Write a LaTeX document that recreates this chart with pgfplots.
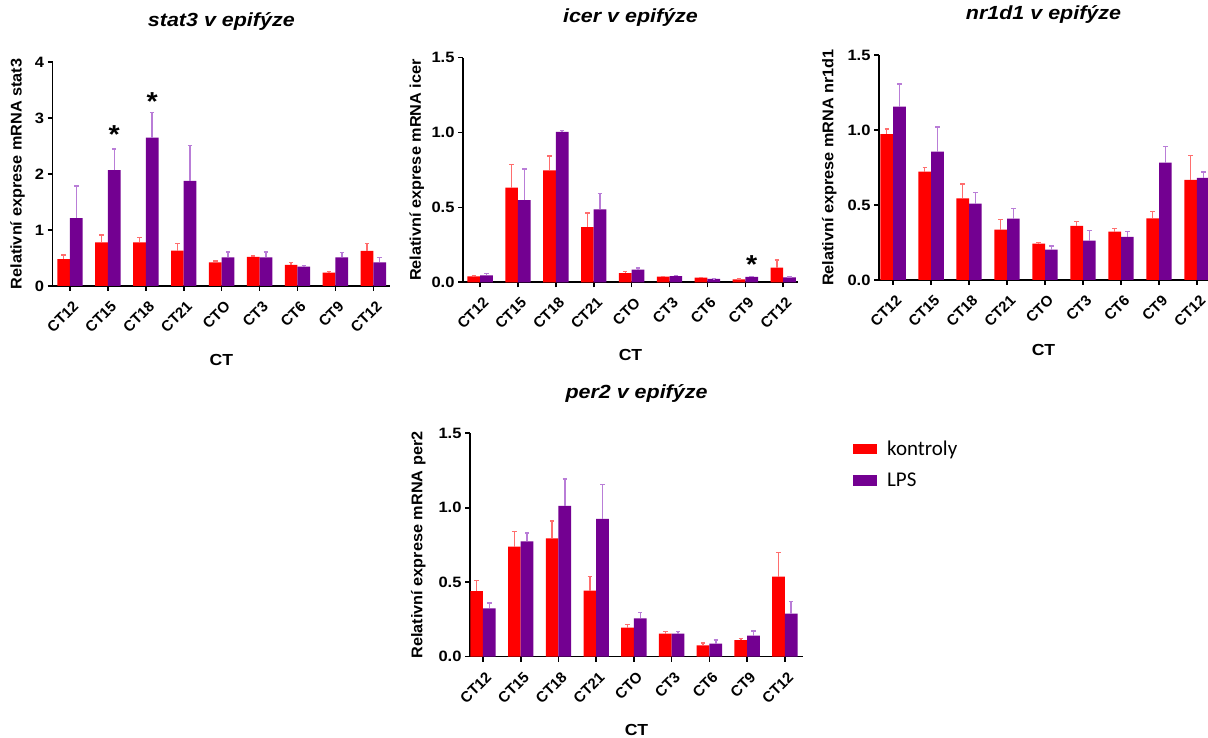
\documentclass[border=0pt]{standalone}
\usepackage{fontspec}
\setmainfont{Liberation Sans}
\newfontfamily\hfont[FakeStretch=1.1]{Liberation Sans}
\newfontfamily\tfont[FakeStretch=1.13]{Liberation Sans}
\newfontfamily\vfont[FakeStretch=1.05]{Liberation Sans}
\newfontfamily\legfont{Carlito}
\usepackage{pgfplots}
\usepackage{pgfplotstable}
\pgfplotsset{compat=1.18}

\definecolor{cred}{RGB}{255,0,0}
\definecolor{cpur}{RGB}{115,0,145}
\definecolor{ered}{RGB}{255,110,110}
\definecolor{epur}{RGB}{185,125,215}

\pgfplotstableread{
x r re p pe
0 0.48 0.07 1.21 0.58
1 0.78 0.13 2.07 0.38
2 0.78 0.09 2.65 0.45
3 0.63 0.13 1.875 0.635
4 0.42 0.03 0.51 0.10
5 0.52 0.02 0.51 0.10
6 0.375 0.045 0.345 0.025
7 0.24 0.02 0.51 0.09
8 0.625 0.135 0.42 0.09
}\stat

\pgfplotstableread{
x r re p pe
0 0.040 0.004 0.047 0.013
1 0.632 0.156 0.548 0.207
2 0.748 0.096 1.004 0.011
3 0.369 0.094 0.487 0.107
4 0.062 0.009 0.085 0.011
5 0.038 0.002 0.042 0.004
6 0.031 0.002 0.022 0.002
7 0.020 0.003 0.036 0.004
8 0.098 0.051 0.033 0.004
}\icer

\pgfplotstableread{
x r re p pe
0 0.973 0.034 1.156 0.151
1 0.722 0.029 0.856 0.164
2 0.544 0.096 0.509 0.073
3 0.336 0.066 0.409 0.067
4 0.242 0.009 0.202 0.025
5 0.360 0.031 0.262 0.067
6 0.322 0.020 0.287 0.035
7 0.411 0.047 0.782 0.107
8 0.667 0.162 0.680 0.040
}\nrd

\pgfplotstableread{
x r re p pe
0 0.441 0.069 0.325 0.035
1 0.739 0.103 0.775 0.055
2 0.795 0.116 1.013 0.180
3 0.443 0.094 0.925 0.232
4 0.195 0.022 0.257 0.041
5 0.155 0.013 0.155 0.013
6 0.076 0.016 0.087 0.025
7 0.112 0.011 0.141 0.031
8 0.537 0.163 0.289 0.081
}\pertwo

\tikzset{sigstar/.style={font=\hfont\bfseries\fontsize{26}{26}\selectfont, anchor=center, yshift=-5pt, inner sep=0pt}}

\pgfplotsset{
  panel/.style={
    scale only axis, anchor=south west,
    axis lines*=left,
    axis line style={line width=1.6pt, black},
    tick style={line width=1.6pt, black},
    tick align=outside, major tick length=5pt,
    ybar=0pt, bar width=12.7pt,
    ymin=0,
    xtick={0,...,8},
    xticklabels={CT12,CT15,CT18,CT21,CTO,CT3,CT6,CT9,CT12},
    xticklabel style={font=\bfseries\fontsize{15}{17}\selectfont, xshift=2pt, yshift=-9pt, rotate=45, anchor=north east, inner sep=0pt},
    yticklabel style={font=\hfont\bfseries\fontsize{15}{17}\selectfont},
    /pgf/number format/assume math mode=true,
    xlabel={CT},
    xlabel style={font=\hfont\bfseries\fontsize{16}{18}\selectfont, anchor=center},
    ylabel style={font=\vfont\bfseries\fontsize{15.5}{17}\selectfont, anchor=center},
    title style={font=\tfont\bfseries\itshape\fontsize{19}{22}\selectfont, at={(axis description cs:0.5,1)}, anchor=base, yshift=29pt},
  },
  dec/.style={yticklabel style={/pgf/number format/.cd, fixed, fixed zerofill, precision=1}, ymax=1.5, ytick={0,0.5,1,1.5}},
  rbar/.style={fill=cred, draw=none,
    error bars/.cd, y dir=plus, y explicit,
    error bar style={ered, line width=1.5pt},
    error mark options={ered, rotate=90, mark size=2.2pt, line width=1.5pt}},
  pbar/.style={fill=cpur, draw=none,
    error bars/.cd, y dir=plus, y explicit,
    error bar style={epur, line width=1.5pt},
    error mark options={epur, rotate=90, mark size=2.2pt, line width=1.5pt}},
}

\begin{document}
\begin{tikzpicture}
\path[use as bounding box] (0,0) rectangle (1208pt,738pt);

% stat3
\begin{axis}[panel, at={(52.7pt,452pt)}, width=337.3pt, height=224pt,
  xmin=-0.456, xmax=8.44, ymax=4, ytick={0,1,2,3,4},
  title={stat3 v epifýze},
  ylabel={Relativní exprese mRNA stat3},
  ylabel style={at={(axis description cs:-0.104,0.5)}},
  xlabel style={at={(axis description cs:0.5,-0.330)}}]
\addplot[rbar] table[x=x, y=r, y error=re] {\stat};
\addplot[pbar] table[x=x, y=p, y error=pe] {\stat};
\node[sigstar] at (axis cs:1.1675,2.80) {*};
\node[sigstar] at (axis cs:2.1675,3.39) {*};
\end{axis}

% icer
\begin{axis}[panel, dec, at={(463pt,455.7pt)}, width=335pt, height=224.6pt,
  xmin=-0.45, xmax=8.39,
  title={icer v epifýze},
  ylabel={Relativní exprese mRNA icer},
  ylabel style={at={(axis description cs:-0.138,0.5)}},
  xlabel style={at={(axis description cs:0.5,-0.325)}}]
\addplot[rbar] table[x=x, y=r, y error=re] {\icer};
\addplot[pbar] table[x=x, y=p, y error=pe] {\icer};
\node[sigstar] at (axis cs:7.1675,0.149) {*};
\end{axis}

% nr1d1
\begin{axis}[panel, dec, at={(879pt,458pt)}, width=329pt, height=225pt,
  xmin=-0.37, xmax=8.29,
  title={nr1d1 v epifýze},
  ylabel={Relativní exprese mRNA nr1d1},
  ylabel style={at={(axis description cs:-0.151,0.5)}},
  xlabel style={at={(axis description cs:0.5,-0.311)}}]
\addplot[rbar] table[x=x, y=r, y error=re] {\nrd};
\addplot[pbar] table[x=x, y=p, y error=pe] {\nrd};
\end{axis}

% per2
\begin{axis}[panel, dec, at={(470pt,81.3pt)}, width=333pt, height=223.4pt,
  xmin=-0.344, xmax=8.48,
  title={per2 v epifýze},
  ylabel={Relativní exprese mRNA per2},
  ylabel style={at={(axis description cs:-0.155,0.5)}},
  xlabel style={at={(axis description cs:0.5,-0.327)}},
  legend image code/.code={\fill[#1, draw=none] (0pt,-5.3pt) rectangle (24pt,5.3pt);},
  legend style={draw=none, fill=none, at={(axis description cs:1.150,0.975)}, anchor=north west,
    inner sep=0pt, font=\legfont\fontsize{21}{24}\selectfont, row sep=12pt,
    cells={anchor=west},
    /tikz/every odd column/.append style={column sep=8pt}},
  ]
\addplot[rbar] table[x=x, y=r, y error=re] {\pertwo};
\addlegendentry{kontroly}
\addplot[pbar] table[x=x, y=p, y error=pe] {\pertwo};
\addlegendentry{LPS}
\end{axis}
\end{tikzpicture}
\end{document}
